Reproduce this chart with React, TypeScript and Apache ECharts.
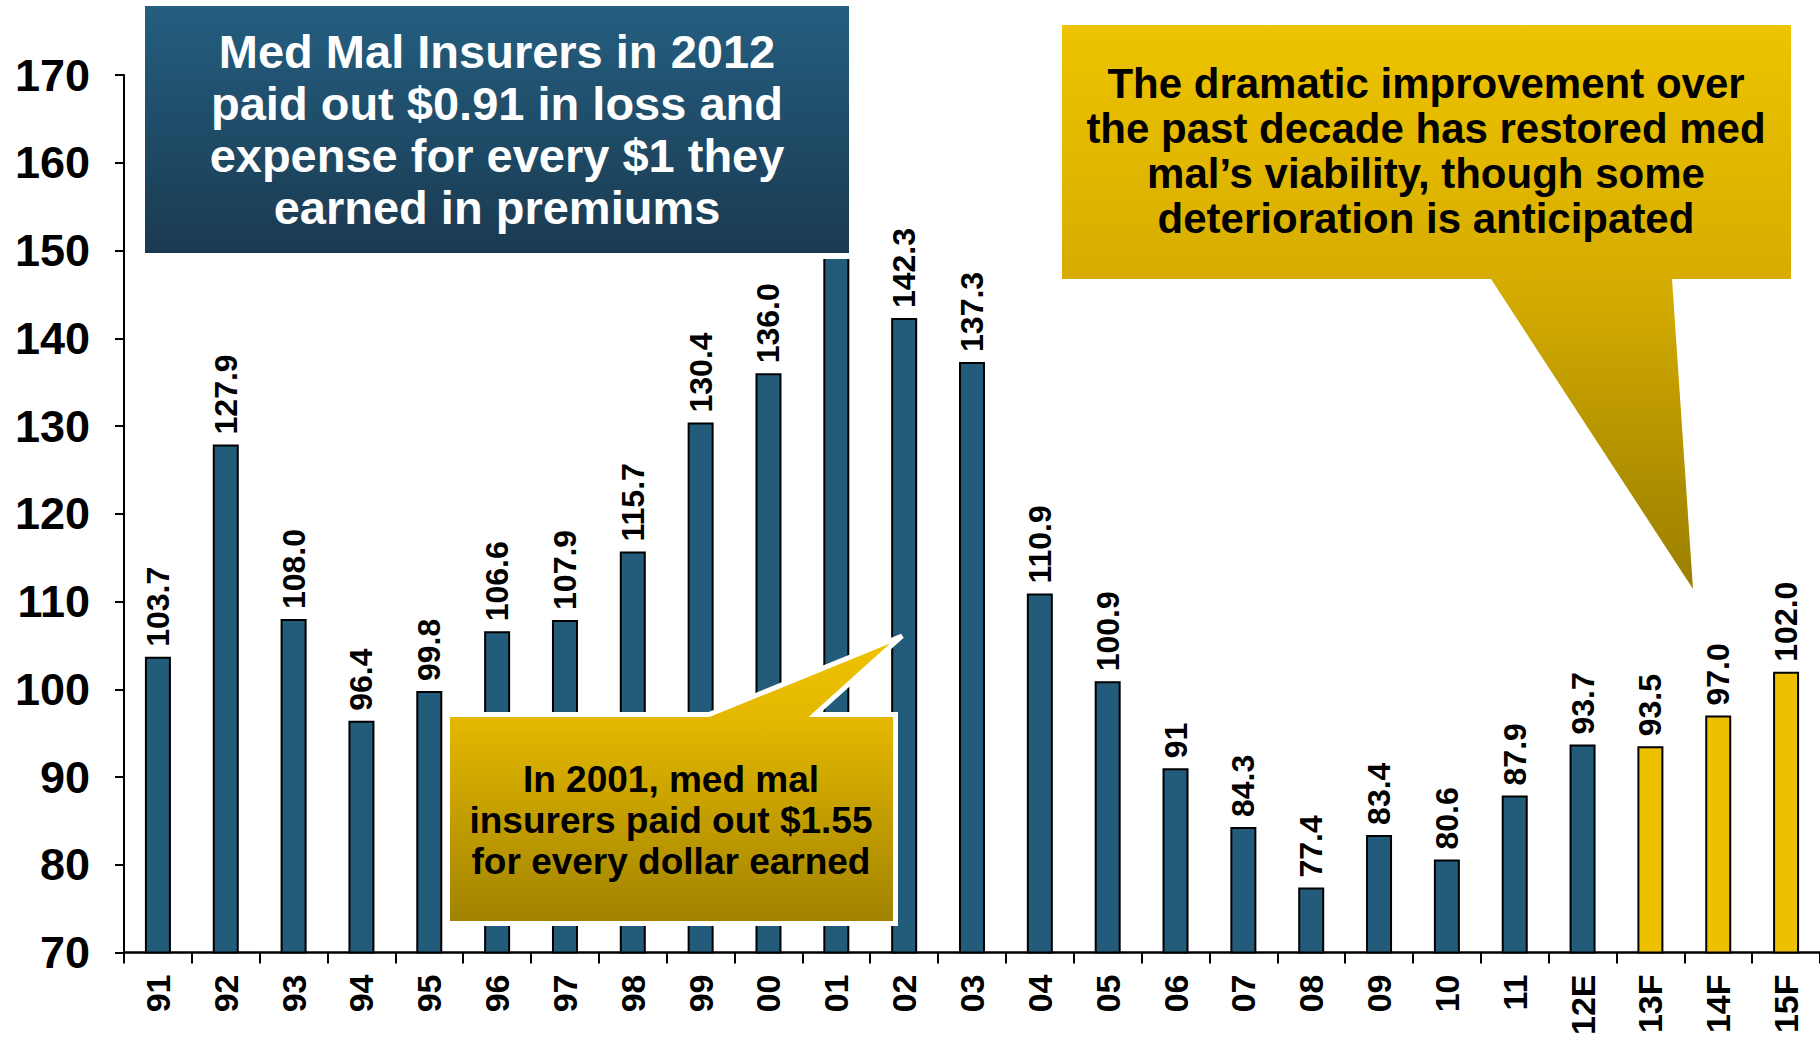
import React, { useEffect, useRef } from "react";
import * as echarts from "echarts";

const categories = ["91", "92", "93", "94", "95", "96", "97", "98", "99", "00", "01", "02", "03", "04", "05", "06", "07", "08", "09", "10", "11", "12E", "13F", "14F", "15F"];
const combinedRatio = [103.7, 127.9, 108.0, 96.4, 99.8, 106.6, 107.9, 115.7, 130.4, 136.0, 155.0, 142.3, 137.3, 110.9, 100.9, 91.0, 84.3, 77.4, 83.4, 80.6, 87.9, 93.7, 93.5, 97.0, 102.0];
const valueLabels = ["103.7", "127.9", "108.0", "96.4", "99.8", "106.6", "107.9", "115.7", "130.4", "136.0", "", "142.3", "137.3", "110.9", "100.9", "91", "84.3", "77.4", "83.4", "80.6", "87.9", "93.7", "93.5", "97.0", "102.0"];
const yMin = 70;
const yMax = 170;
const yInterval = 10;

const leftBoxLines = ["Med Mal Insurers in 2012", "paid out $0.91 in loss and", "expense for every $1 they", "earned in premiums"];
const rightBoxLines = ["The dramatic improvement over", "the past decade has restored med", "mal\u2019s viability, though some", "deterioration is anticipated"];
const midBoxLines = ["In 2001, med mal", "insurers paid out $1.55", "for every dollar earned"];

const FONT = "'Liberation Sans', Arial, Helvetica, sans-serif";
const BLUE = "#235B7B";
const GOLD = "#EDC100";

export default function App() {
  const ref = useRef<HTMLDivElement>(null);

  useEffect(() => {
    if (!ref.current) return;
    const chart = echarts.init(ref.current, null, { renderer: "svg" });

    const data = combinedRatio.map((v, i) => ({
      value: v,
      itemStyle: { color: categories[i].endsWith("F") ? GOLD : BLUE },
      label: { show: valueLabels[i] !== "" },
    }));

    const option: any = {
      animation: false,
      backgroundColor: "#ffffff",
      grid: { left: 124, right: 0, top: 75, bottom: 83, containLabel: false },
      xAxis: {
        type: "category",
        data: categories,
        boundaryGap: true,
        axisLine: { show: true, lineStyle: { color: "#000", width: 2.5 } },
        axisTick: { show: true, length: 11, lineStyle: { color: "#000", width: 2 } },
        axisLabel: {
          rotate: 90,
          margin: 22,
          interval: 0,
          color: "#000",
          fontFamily: FONT,
          fontWeight: "bold",
          fontSize: 34,
        },
      },
      yAxis: {
        type: "value",
        min: yMin,
        max: yMax,
        interval: yInterval,
        splitLine: { show: false },
        axisLine: { show: true, lineStyle: { color: "#000", width: 2 } },
        axisTick: { show: true, length: 9, lineStyle: { color: "#000", width: 2 } },
        axisLabel: {
          margin: 34,
          color: "#000",
          fontFamily: FONT,
          fontWeight: "bold",
          fontSize: 45,
        },
      },
      series: [
        {
          type: "bar",
          data,
          barWidth: 26,
          itemStyle: { borderColor: "#000", borderWidth: 2 },
          label: {
            show: true,
            position: "top",
            rotate: 90,
            align: "left",
            verticalAlign: "middle",
            distance: 10,
            color: "#000",
            fontFamily: FONT,
            fontWeight: "bold",
            fontSize: 32,
            formatter: (p: any) => valueLabels[p.dataIndex],
          },
        },
      ],
      graphic: [
        {
          type: "rect",
          z: 100,
          shape: { x: 139, y: 0, width: 716, height: 259 },
          style: { fill: "#ffffff" },
        },
        {
          type: "rect",
          z: 101,
          shape: { x: 145, y: 6, width: 704, height: 247 },
          style: {
            fill: new echarts.graphic.LinearGradient(0, 0, 0, 1, [
              { offset: 0, color: "#245E80" },
              { offset: 1, color: "#1A3A50" },
            ]),
          },
        },
        {
          type: "text",
          z: 102,
          x: 497,
          y: 129,
          style: {
            text: leftBoxLines.join("\n"),
            fill: "#ffffff",
            fontFamily: FONT,
            fontWeight: "bold",
            fontSize: 47,
            lineHeight: 52,
            align: "center",
            verticalAlign: "middle",
          },
        },
        {
          type: "polygon",
          z: 100,
          shape: {
            points: [
              [1062, 25],
              [1791, 25],
              [1791, 279],
              [1672, 279],
              [1693, 589],
              [1491, 279],
              [1062, 279],
            ],
          },
          style: {
            fill: new echarts.graphic.LinearGradient(0, 0, 0, 1, [
              { offset: 0, color: "#EEC300" },
              { offset: 0.45, color: "#D6AD00" },
              { offset: 1, color: "#9A7E00" },
            ]),
          },
        },
        {
          type: "text",
          z: 102,
          x: 1426,
          y: 151,
          style: {
            text: rightBoxLines.join("\n"),
            fill: "#000000",
            fontFamily: FONT,
            fontWeight: "bold",
            fontSize: 42,
            lineHeight: 45,
            align: "center",
            verticalAlign: "middle",
          },
        },
        {
          type: "polygon",
          z: 100,
          shape: {
            points: [
              [447.5, 714.5],
              [709, 714.5],
              [902, 636],
              [815, 714.5],
              [895.5, 714.5],
              [895.5, 923.5],
              [447.5, 923.5],
            ],
          },
          style: {
            fill: new echarts.graphic.LinearGradient(0, 0, 0, 1, [
              { offset: 0, color: "#F0C400" },
              { offset: 0.3, color: "#E3B700" },
              { offset: 1, color: "#A08200" },
            ]),
            stroke: "#ffffff",
            lineWidth: 5,
            lineJoin: "miter",
          },
        },
        {
          type: "text",
          z: 102,
          x: 671,
          y: 820,
          style: {
            text: midBoxLines.join("\n"),
            fill: "#000000",
            fontFamily: FONT,
            fontWeight: "bold",
            fontSize: 37,
            lineHeight: 41,
            align: "center",
            verticalAlign: "middle",
          },
        },
      ],
    };

    chart.setOption(option);
    return () => {
      chart.dispose();
    };
  }, []);

  return (
    <div
      ref={ref}
      style={{ position: "absolute", left: 0, top: 0, width: 1820, height: 1038, background: "#fff" }}
    />
  );
}
